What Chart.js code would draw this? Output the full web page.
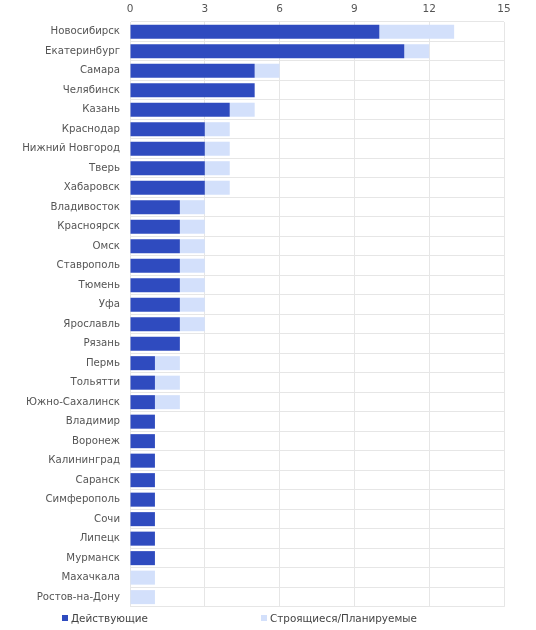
<!DOCTYPE html>
<html>
<head>
<meta charset="utf-8">
<script src="https://cdn.jsdelivr.net/npm/chart.js@4"></script>
<style>
    body { margin: 0; background: #fff; font-family: "DejaVu Sans", sans-serif; }
    #wrap { position: absolute; left: 0; top: 0; width: 536px; height: 623px; }
    #legenda { position: absolute; left: 0; top: 611px; width: 536px; height: 18px; font-size: 10.4px; color: #444; }
    .item { position: absolute; top: 1px; display: flex; align-items: center; }
    .item span.box { display: inline-block; width: 6px; height: 6px; margin-right: 3px; }
</style>
</head>
<body>
<div id="wrap"><canvas id="graficoCidades"></canvas></div>
<div id="legenda">
    <div class="item" style="left:62px"><span class="box" style="background:#2f4bbf"></span>Действующие</div>
    <div class="item" style="left:261px"><span class="box" style="background:#d3e0fb"></span>Строящиеся/Планируемые</div>
</div>
<script>
const cidades = ["Новосибирск", "Екатеринбург", "Самара", "Челябинск", "Казань", "Краснодар",
    "Нижний Новгород", "Тверь", "Хабаровск", "Владивосток", "Красноярск", "Омск", "Ставрополь",
    "Тюмень", "Уфа", "Ярославль", "Рязань", "Пермь", "Тольятти", "Южно-Сахалинск", "Владимир",
    "Воронеж", "Калининград", "Саранск", "Симферополь", "Сочи", "Липецк", "Мурманск",
    "Махачкала", "Ростов-на-Дону"];
const ativos = [10, 11, 5, 5, 4, 3, 3, 3, 3, 2, 2, 2, 2, 2, 2, 2, 2, 1, 1, 1, 1, 1, 1, 1, 1, 1, 1, 1, 0, 0];
const planejados = [3, 1, 1, 0, 1, 1, 1, 1, 1, 1, 1, 1, 1, 1, 1, 1, 0, 1, 1, 1, 0, 0, 0, 0, 0, 0, 0, 0, 1, 1];
const ticksX = [0, 3, 6, 9, 12, 15];

new Chart(document.getElementById("graficoCidades"), {
    type: "bar",
    data: {
        labels: cidades,
        datasets: [{
            label: "Действующие",
            data: ativos,
            backgroundColor: "#2f4bbf",
            borderWidth: 0,
            categoryPercentage: 0.72,
            barPercentage: 1
        }, {
            label: "Строящиеся/Планируемые",
            data: planejados,
            backgroundColor: "#d3e0fb",
            borderWidth: 0,
            categoryPercentage: 0.72,
            barPercentage: 1
        }]
    },
    options: {
        indexAxis: "y",
        responsive: true,
        maintainAspectRatio: false,
        animation: false,
        layout: { padding: { top: 0, right: 32, left: 0, bottom: 0 } },
        plugins: {
            legend: { display: false },
            tooltip: { enabled: false }
        },
        scales: {
            x: {
                position: "top",
                stacked: true,
                min: 0,
                max: 15,
                afterBuildTicks: (axis) => { axis.ticks = ticksX.map(v => ({ value: v })); },
                afterFit: (axis) => { axis.height = 22; },
                grid: { color: "#e6e6e6", drawTicks: false },
                border: { display: false },
                ticks: { color: "#555", font: { family: "DejaVu Sans", size: 10.5 }, padding: 6 }
            },
            y: {
                stacked: true,
                afterFit: (axis) => { axis.width = 130; },
                grid: { color: "#e6e6e6", drawTicks: false },
                border: { color: "#e6e6e6" },
                ticks: { color: "#555", font: { family: "DejaVu Sans", size: 10.2 }, padding: 10, autoSkip: false }
            }
        }
    }
});
</script>
</body>
</html>
